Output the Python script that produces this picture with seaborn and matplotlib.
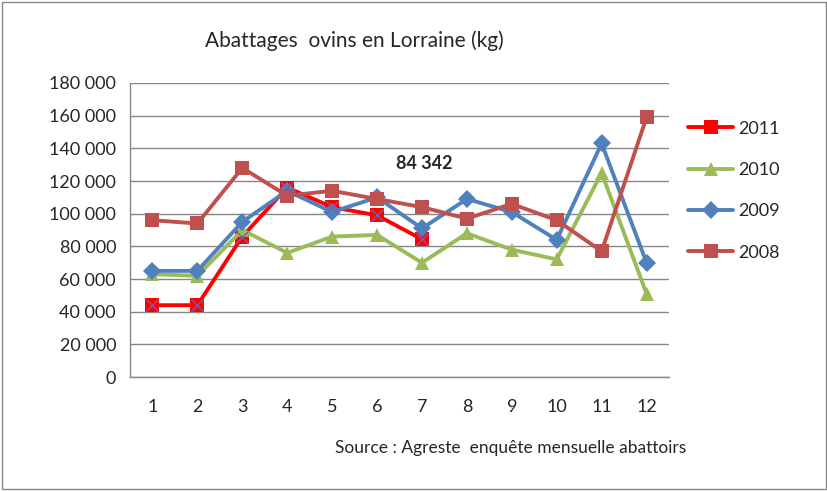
import numpy as np
import pandas as pd
import matplotlib
matplotlib.use("Agg")
import matplotlib.pyplot as plt
from matplotlib.patches import Rectangle
import seaborn as sns

# ================= DATA =================
months = list(range(1, 13))
y2011 = [44000, 44000, 86000, 116000, 104000, 99000, 84342]
y2010 = [63000, 62000, 90000, 76000, 86000, 87000, 70000, 88000, 78000, 72000, 125000, 51000]
y2009 = [65000, 65000, 95000, 114000, 101000, 110000, 91000, 109000, 101000, 84000, 143000, 70000]
y2008 = [96000, 94000, 128000, 111000, 114000, 109000, 104000, 97000, 106000, 96000, 77000, 159000]
years = ["2011", "2010", "2009", "2008"]
colors = {"2011": "#FF0000", "2010": "#9BBB59", "2009": "#4F81BD", "2008": "#C0504D"}
markers = {"2011": "s", "2010": "^", "2009": "D", "2008": "s"}

rows = []
for yr, vals in zip(years, [y2011, y2010, y2009, y2008]):
    for m, v in zip(months, vals):
        rows.append({"mois": m, "kg": v, "annee": yr})
df = pd.DataFrame(rows)

# ================= PLOT =================
sns.set_style("white")
plt.rcParams["font.family"] = ["Lato", "DejaVu Sans"]

fig = plt.figure(figsize=(8.28, 4.91), dpi=100)
ax = fig.add_axes([0.157, 0.232, 0.651, 0.599])

for yr in years:
    sub = df[df.annee == yr]
    sns.lineplot(data=sub, x="mois", y="kg", ax=ax, color=colors[yr],
                 marker=markers[yr], markersize=10 if yr != "2009" else 9,
                 markeredgewidth=0, linewidth=2.8, label=yr, legend=False)
    if yr == "2011":
        sns.scatterplot(data=sub, x="mois", y="kg", ax=ax, marker="x",
                        color="#7B5BA6", s=80, linewidth=1.0, zorder=5, legend=False)

# label on July 2011
last = y2011[-1]
ax.text(len(y2011) + 0.05, 131000, f"{last:,}".replace(",", " "),
        ha="center", va="center", fontsize=13, fontweight="bold")

ax.set_xlim(0.5, 12.5)
ax.set_ylim(0, 180000)
ax.set_yticks(np.arange(0, 180001, 20000))
ax.set_yticklabels([f"{v:,}".replace(",", " ") for v in range(0, 180001, 20000)], fontsize=13)
ax.set_xticks(months)
ax.set_xticklabels([str(m) for m in months], fontsize=13)
ax.set_xticks(np.arange(0.5, 12.6, 1), minor=True)
ax.tick_params(axis="x", which="major", length=0, pad=16)
ax.tick_params(axis="x", which="minor", length=5, color="#868686", direction="out")
ax.tick_params(axis="y", length=5, color="#868686", direction="out", pad=5)
ax.yaxis.grid(True, color="#868686", linewidth=1)
ax.xaxis.grid(False)
ax.set_axisbelow(True)
for s in ["top", "right"]:
    ax.spines[s].set_visible(False)
for s in ["left", "bottom"]:
    ax.spines[s].set_color("#868686")
    ax.spines[s].set_linewidth(1)
ax.set_xlabel("")
ax.set_ylabel("")

handles, labels = ax.get_legend_handles_labels()
fig.legend(handles, labels, loc="upper left", bbox_to_anchor=(0.831, 0.754),
           frameon=False, fontsize=13, labelspacing=1.4, handlelength=2.5,
           handletextpad=0.3, borderpad=0, borderaxespad=0)

fig.text(0.248, 0.905, "Abattages  ovins en Lorraine (kg)", fontsize=15)
fig.text(0.405, 0.078, "Source : Agreste  enquête mensuelle abattoirs", fontsize=12.5)

fig.patches.append(Rectangle((0.003, 0.004), 0.994, 0.992, transform=fig.transFigure,
                             fill=False, edgecolor="#868686", linewidth=1))

fig.savefig("out.png", dpi=100)
